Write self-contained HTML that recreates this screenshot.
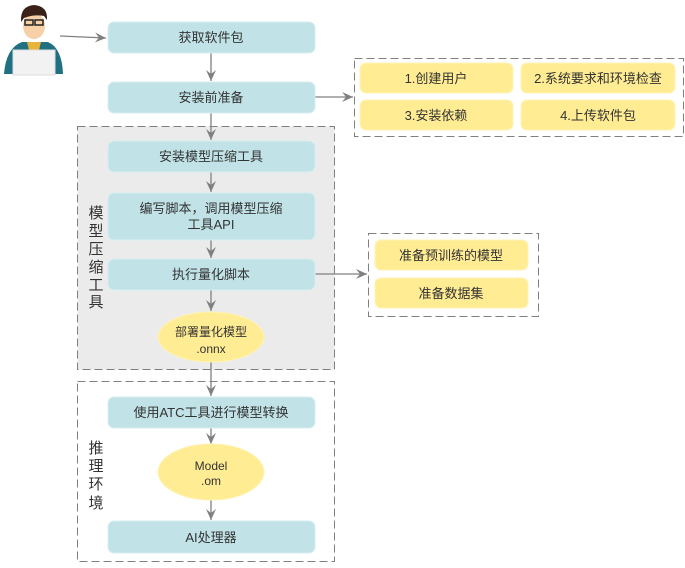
<!DOCTYPE html>
<html><head><meta charset="utf-8"><style>
html,body{margin:0;padding:0;background:#fff;}
svg text{font-family:"Liberation Sans","Noto Sans CJK SC",sans-serif;fill:#333;}
</style></head><body>
<svg width="685" height="563" viewBox="0 0 685 563" xmlns="http://www.w3.org/2000/svg">
<defs>
<marker id="a" markerWidth="12" markerHeight="10" refX="11" refY="5" orient="auto" markerUnits="userSpaceOnUse">
<path d="M0,0 L11,5 L0,10 L4,5 Z" fill="#808080"/>
</marker>
</defs>
<g>
<path d="M4,74 Q6,48 22,42 L48,42 Q62,48 63,74 Z" fill="#1f7080"/>
<path d="M27,42 L41,42 L38,54 L30,54 Z" fill="#e9b33a"/>
<ellipse cx="34" cy="26" rx="11" ry="13" fill="#f6d1a8"/>
<path d="M21,22 Q20,6 34,5 Q48,6 47,20 L44,16 Q34,14 24,18 Z" fill="#3a2218"/>
<rect x="25" y="20" width="8" height="5" fill="none" stroke="#222" stroke-width="1.5"/>
<rect x="35" y="20" width="8" height="5" fill="none" stroke="#222" stroke-width="1.5"/>
<rect x="13" y="50" width="42" height="25" fill="#f2f2f2" stroke="#ddd"/>
</g>
<line x1="60" y1="36" x2="106" y2="38" stroke="#808080" stroke-width="1.3" marker-end="url(#a)"/>
<rect x="77.5" y="126.5" width="257" height="243" fill="#ebebeb" stroke="#808080" stroke-dasharray="8,4"/>
<rect x="77.5" y="381.5" width="257" height="180" fill="#fff" stroke="#808080" stroke-dasharray="8,4"/>
<rect x="354.5" y="58.5" width="329" height="78" fill="#fff" stroke="#808080" stroke-dasharray="8,4"/>
<rect x="368.5" y="233.5" width="170" height="83" fill="#fff" stroke="#808080" stroke-dasharray="8,4"/>
<g stroke="#808080" stroke-width="1.3" marker-end="url(#a)">
<line x1="211" y1="53" x2="211" y2="81"/>
<line x1="211" y1="113" x2="211" y2="140"/>
<line x1="211" y1="172" x2="211" y2="192"/>
<line x1="211" y1="240" x2="211" y2="258"/>
<line x1="211" y1="290" x2="211" y2="311"/>
<line x1="211" y1="362" x2="211" y2="396"/>
<line x1="211" y1="428" x2="211" y2="444"/>
<line x1="211" y1="500" x2="211" y2="520"/>
<line x1="315" y1="97" x2="353" y2="97"/>
<line x1="315" y1="274" x2="367" y2="274"/>
</g>
<g fill="#c1e3e7" stroke="#d6eef0">
<rect x="108" y="22" width="207" height="31" rx="6"/>
<rect x="108" y="82" width="207" height="31" rx="6"/>
<rect x="108" y="141" width="207" height="31" rx="6"/>
<rect x="108" y="193" width="207" height="47" rx="6"/>
<rect x="108" y="259" width="207" height="31" rx="6"/>
<rect x="108" y="397" width="207" height="31" rx="6"/>
<rect x="108" y="521" width="207" height="32" rx="6"/>
</g>
<g fill="#ffec93" stroke="#fff3b8">
<rect x="360" y="63" width="153" height="30" rx="6"/>
<rect x="521" y="63" width="154" height="30" rx="6"/>
<rect x="360" y="100" width="153" height="30" rx="6"/>
<rect x="521" y="100" width="154" height="30" rx="6"/>
<rect x="375" y="240" width="153" height="30" rx="6"/>
<rect x="375" y="278" width="153" height="30" rx="6"/>
<ellipse cx="211" cy="337" rx="53" ry="25"/>
<ellipse cx="211" cy="472" rx="53" ry="28"/>
</g>
<g font-size="13" text-anchor="middle">
<text x="211" y="42">获取软件包</text>
<text x="211" y="102">安装前准备</text>
<text x="211" y="161">安装模型压缩工具</text>
<text x="211" y="213">编写脚本，调用模型压缩</text>
<text x="211" y="229">工具API</text>
<text x="211" y="279">执行量化脚本</text>
<text x="211" y="417">使用ATC工具进行模型转换</text>
<text x="211" y="542">AI处理器</text>
<text x="436" y="83">1.创建用户</text>
<text x="598" y="83">2.系统要求和环境检查</text>
<text x="436" y="120">3.安装依赖</text>
<text x="598" y="120">4.上传软件包</text>
<text x="451" y="260">准备预训练的模型</text>
<text x="451" y="298">准备数据集</text>
</g>
<g font-size="12" text-anchor="middle">
<text x="211" y="336">部署量化模型</text>
<text x="211" y="353">.onnx</text>
<text x="211" y="470">Model</text>
<text x="211" y="485">.om</text>
</g>
<g font-size="15" text-anchor="middle">
<text x="96" y="218">模</text>
<text x="96" y="236">型</text>
<text x="96" y="254">压</text>
<text x="96" y="272">缩</text>
<text x="96" y="290">工</text>
<text x="96" y="307">具</text>
<text x="96" y="453">推</text>
<text x="96" y="471">理</text>
<text x="96" y="489">环</text>
<text x="96" y="508">境</text>
</g>
</svg>
</body></html>
